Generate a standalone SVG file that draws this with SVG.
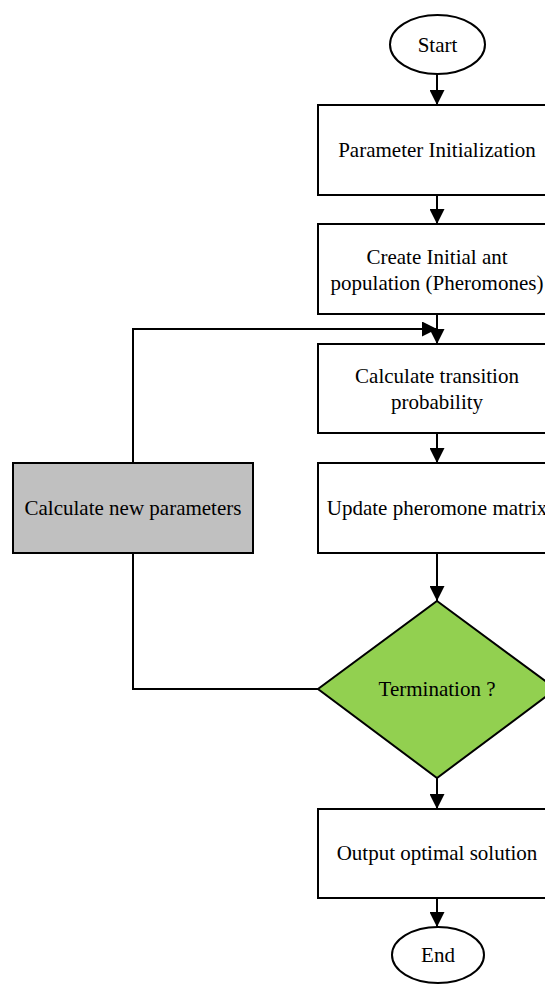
<svg xmlns="http://www.w3.org/2000/svg" width="545" height="984" viewBox="0 0 545 984">
<style>
.n{fill:#fff;stroke:#000;stroke-width:2}
.g{fill:#c0c0c0;stroke:#000;stroke-width:2}
.d{fill:#92d050;stroke:#000;stroke-width:2}
.t{font-family:"Liberation Serif","Times New Roman",serif;font-size:21px;fill:#000;text-anchor:middle;dominant-baseline:central}
.c{fill:none;stroke:#000;stroke-width:2}
</style>
<defs>
<marker id="ah" markerWidth="15" markerHeight="15" viewBox="0 0 15 15" refX="15" refY="7.5" orient="auto" markerUnits="userSpaceOnUse">
<path d="M0,0 L15,7.5 L0,15 Z" fill="#000"/>
</marker>
</defs>
<rect width="545" height="984" fill="#fff"/>
<g id="connectors">
<path class="c" d="M437,74 V105" marker-end="url(#ah)"/>
<path class="c" d="M437,195 V224" marker-end="url(#ah)"/>
<path class="c" d="M437,314 V344" marker-end="url(#ah)"/>
<path class="c" d="M437,433 V463" marker-end="url(#ah)"/>
<path class="c" d="M437,553 V601" marker-end="url(#ah)"/>
<path class="c" d="M437,778 V809" marker-end="url(#ah)"/>
<path class="c" d="M437,898 V927" marker-end="url(#ah)"/>
<path class="c" d="M318,689 H133 V553"/>
<path class="c" d="M133,463 V329 H437" marker-end="url(#ah)"/>
</g>
<g id="start">
<ellipse class="n" cx="437.5" cy="44.5" rx="47.5" ry="29.5"/>
<text class="t" x="437.5" y="44.5">Start</text>
</g>
<g id="param-init">
<rect class="n" x="318" y="105" width="238" height="90"/>
<text class="t" x="437" y="150">Parameter Initialization</text>
</g>
<g id="create-pop">
<rect class="n" x="318" y="224" width="238" height="90"/>
<text class="t" x="437" y="257">Create Initial ant</text>
<text class="t" x="437" y="283">population (Pheromones)</text>
</g>
<g id="calc-trans">
<rect class="n" x="318" y="344" width="238" height="89"/>
<text class="t" x="437" y="376">Calculate transition</text>
<text class="t" x="437" y="402">probability</text>
</g>
<g id="update">
<rect class="n" x="318" y="463" width="238" height="90"/>
<text class="t" x="437" y="508">Update pheromone matrix</text>
</g>
<g id="new-params">
<rect class="g" x="13" y="463" width="240" height="90"/>
<text class="t" x="133" y="508">Calculate new parameters</text>
</g>
<g id="termination">
<polygon class="d" points="437,601 556,689 437,778 318,689"/>
<text class="t" x="437" y="689">Termination ?</text>
</g>
<g id="output">
<rect class="n" x="318" y="809" width="238" height="89"/>
<text class="t" x="437" y="853">Output optimal solution</text>
</g>
<g id="end">
<ellipse class="n" cx="438" cy="955" rx="46" ry="28"/>
<text class="t" x="438" y="955">End</text>
</g>
</svg>
